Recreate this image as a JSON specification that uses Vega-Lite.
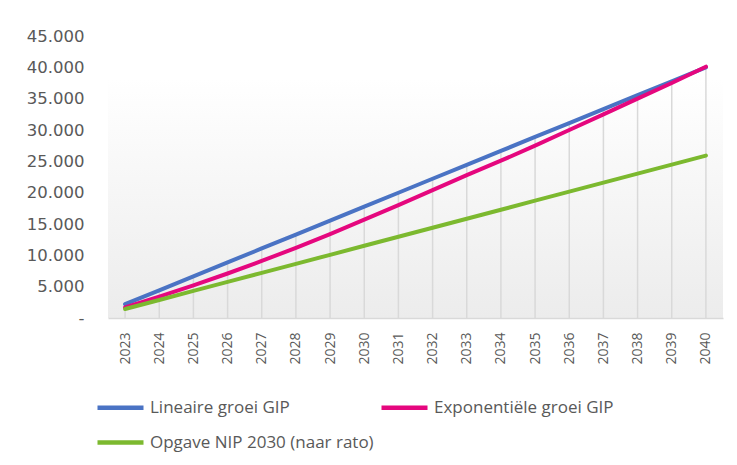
{
  "$schema": "https://vega.github.io/schema/vega-lite/v6.json",
  "autosize": {"type": "none"},
  "width": 615,
  "height": 282,
  "padding": {"left": 108, "top": 36, "right": 14, "bottom": 147},
  "background": "white",
  "config": {
    "font": "Open Sans",
    "axisY": {"labelFont": "DejaVu Sans", "labelFontSize": 16.5, "labelColor": "#595959"},
    "view": {"stroke": null, "fill": {"gradient": "linear", "x1": 0, "y1": 0, "x2": 0, "y2": 1, "stops": [{"offset": 0, "color": "#ffffff"}, {"offset": 0.15, "color": "#ffffff"}, {"offset": 1, "color": "#ececec"}]}}
  },
  "data": {"values": [
    {"year": "2023", "series": "Lineaire groei GIP", "value": 2200},
    {"year": "2024", "series": "Lineaire groei GIP", "value": 4420},
    {"year": "2025", "series": "Lineaire groei GIP", "value": 6650},
    {"year": "2026", "series": "Lineaire groei GIP", "value": 8870},
    {"year": "2027", "series": "Lineaire groei GIP", "value": 11100},
    {"year": "2028", "series": "Lineaire groei GIP", "value": 13320},
    {"year": "2029", "series": "Lineaire groei GIP", "value": 15540},
    {"year": "2030", "series": "Lineaire groei GIP", "value": 17770},
    {"year": "2031", "series": "Lineaire groei GIP", "value": 19990},
    {"year": "2032", "series": "Lineaire groei GIP", "value": 22220},
    {"year": "2033", "series": "Lineaire groei GIP", "value": 24440},
    {"year": "2034", "series": "Lineaire groei GIP", "value": 26660},
    {"year": "2035", "series": "Lineaire groei GIP", "value": 28890},
    {"year": "2036", "series": "Lineaire groei GIP", "value": 31110},
    {"year": "2037", "series": "Lineaire groei GIP", "value": 33340},
    {"year": "2038", "series": "Lineaire groei GIP", "value": 35560},
    {"year": "2039", "series": "Lineaire groei GIP", "value": 37780},
    {"year": "2040", "series": "Lineaire groei GIP", "value": 40000},
    {"year": "2023", "series": "Exponentiële groei GIP", "value": 1700},
    {"year": "2024", "series": "Exponentiële groei GIP", "value": 3400},
    {"year": "2025", "series": "Exponentiële groei GIP", "value": 5200},
    {"year": "2026", "series": "Exponentiële groei GIP", "value": 7100},
    {"year": "2027", "series": "Exponentiële groei GIP", "value": 9100},
    {"year": "2028", "series": "Exponentiële groei GIP", "value": 11200},
    {"year": "2029", "series": "Exponentiële groei GIP", "value": 13400},
    {"year": "2030", "series": "Exponentiële groei GIP", "value": 15700},
    {"year": "2031", "series": "Exponentiële groei GIP", "value": 18000},
    {"year": "2032", "series": "Exponentiële groei GIP", "value": 20400},
    {"year": "2033", "series": "Exponentiële groei GIP", "value": 22800},
    {"year": "2034", "series": "Exponentiële groei GIP", "value": 25100},
    {"year": "2035", "series": "Exponentiële groei GIP", "value": 27500},
    {"year": "2036", "series": "Exponentiële groei GIP", "value": 30000},
    {"year": "2037", "series": "Exponentiële groei GIP", "value": 32500},
    {"year": "2038", "series": "Exponentiële groei GIP", "value": 35000},
    {"year": "2039", "series": "Exponentiële groei GIP", "value": 37500},
    {"year": "2040", "series": "Exponentiële groei GIP", "value": 40100},
    {"year": "2023", "series": "Opgave NIP 2030 (naar rato)", "value": 1440},
    {"year": "2024", "series": "Opgave NIP 2030 (naar rato)", "value": 2880},
    {"year": "2025", "series": "Opgave NIP 2030 (naar rato)", "value": 4320},
    {"year": "2026", "series": "Opgave NIP 2030 (naar rato)", "value": 5760},
    {"year": "2027", "series": "Opgave NIP 2030 (naar rato)", "value": 7200},
    {"year": "2028", "series": "Opgave NIP 2030 (naar rato)", "value": 8640},
    {"year": "2029", "series": "Opgave NIP 2030 (naar rato)", "value": 10080},
    {"year": "2030", "series": "Opgave NIP 2030 (naar rato)", "value": 11520},
    {"year": "2031", "series": "Opgave NIP 2030 (naar rato)", "value": 12960},
    {"year": "2032", "series": "Opgave NIP 2030 (naar rato)", "value": 14400},
    {"year": "2033", "series": "Opgave NIP 2030 (naar rato)", "value": 15840},
    {"year": "2034", "series": "Opgave NIP 2030 (naar rato)", "value": 17280},
    {"year": "2035", "series": "Opgave NIP 2030 (naar rato)", "value": 18720},
    {"year": "2036", "series": "Opgave NIP 2030 (naar rato)", "value": 20160},
    {"year": "2037", "series": "Opgave NIP 2030 (naar rato)", "value": 21600},
    {"year": "2038", "series": "Opgave NIP 2030 (naar rato)", "value": 23040},
    {"year": "2039", "series": "Opgave NIP 2030 (naar rato)", "value": 24480},
    {"year": "2040", "series": "Opgave NIP 2030 (naar rato)", "value": 25920}
  ]},
  "encoding": {
    "x": {
      "field": "year", "type": "ordinal",
      "scale": {"type": "point", "padding": 0.5},
      "axis": {"title": null, "labelAngle": -90, "labelFontSize": 14, "labelColor": "#595959", "labelPadding": 14, "ticks": false, "domainColor": "#d9d9d9", "domainWidth": 1.5, "grid": false}
    },
    "y": {
      "field": "value", "type": "quantitative",
      "scale": {"domain": [0, 45000], "nice": false},
      "axis": {"title": null, "values": [0, 5000, 10000, 15000, 20000, 25000, 30000, 35000, 40000, 45000], "labelExpr": "datum.value == 0 ? '-\u2007' : replace(format(datum.value, ','), /,/g, '.')", "labelPadding": 24, "labelOverlap": false, "labelBound": false, "ticks": false, "domain": false, "grid": false}
    }
  },
  "layer": [
    {
      "transform": [{"aggregate": [{"op": "max", "field": "value", "as": "value"}], "groupby": ["year"]}],
      "mark": {"type": "rule", "color": "#d9d9d9", "strokeWidth": 1.5},
      "encoding": {
        "y2": {"datum": 0}
      }
    },
    {
      "mark": {"type": "line", "strokeWidth": 4, "strokeCap": "round", "strokeJoin": "round"},
      "encoding": {
        "color": {
          "field": "series", "type": "nominal",
          "scale": {"domain": ["Lineaire groei GIP", "Exponentiële groei GIP", "Opgave NIP 2030 (naar rato)"], "range": ["#4A73C4", "#E5077E", "#7CB92F"]},
          "legend": {"title": null, "orient": "none", "legendX": -13, "legendY": 346, "direction": "horizontal", "columns": 2, "symbolType": "stroke", "symbolSize": 2116, "symbolStrokeWidth": 4.5, "labelFontSize": 17, "labelColor": "#595959", "labelOffset": 4, "columnPadding": -2, "rowPadding": -11, "labelLimit": 400}
        }
      }
    }
  ]
}
